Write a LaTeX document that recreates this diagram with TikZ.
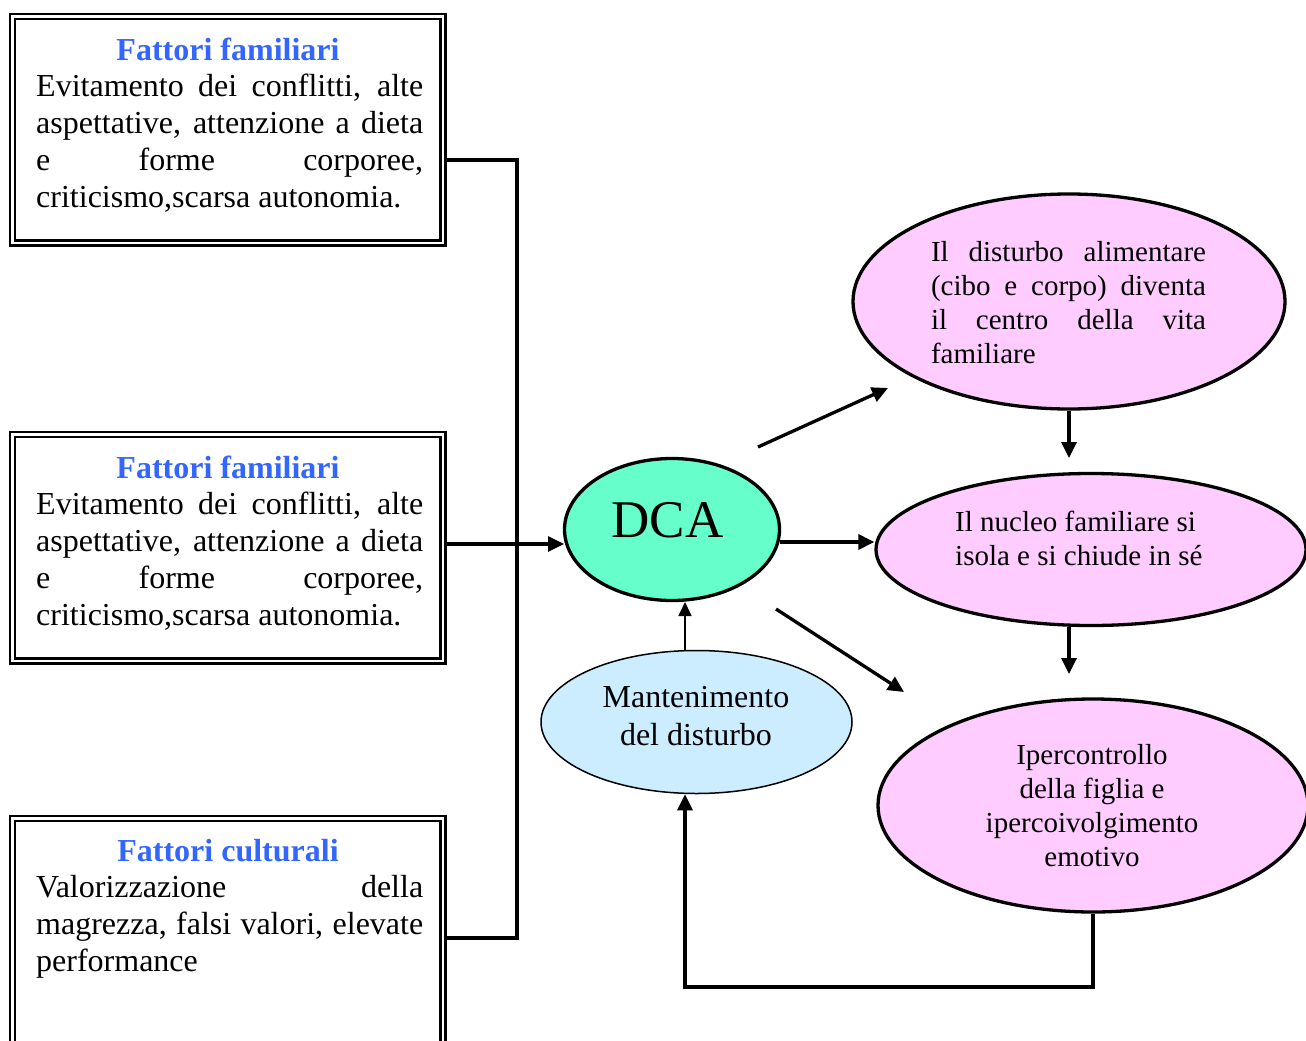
\documentclass[tikz,border=0pt]{standalone}
\usepackage{fontspec}
\setmainfont{Liberation Serif}
\usetikzlibrary{shapes.geometric,arrows.meta}
\definecolor{titleblue}{HTML}{3366FF}
\definecolor{dcagreen}{HTML}{66FFCC}
\definecolor{pinkfill}{HTML}{FFCCFF}
\definecolor{lightblue}{HTML}{CCECFF}
\begin{document}
\begin{tikzpicture}[x=1pt,y=-1pt,
  factorbox/.style={draw, line width=2.3pt, double=white, double distance=2.8pt,
    minimum width=430.5pt, minimum height=226.5pt, inner sep=0pt, outer sep=3.6pt},
  boxtitle/.style={font=\fontsize{32}{37}\selectfont\bfseries, text=titleblue, inner sep=0pt},
  boxbody/.style={font=\fontsize{32}{37}\selectfont, text width=387pt, align=justify,
    inner sep=0pt, anchor=north west},
  pinkell/.style={ellipse, draw, line width=3.3pt, fill=pinkfill, inner sep=0pt},
  elltext/.style={font=\fontsize{29}{34}\selectfont, inner sep=0pt, anchor=north},
  conn/.style={line width=3.3pt, line join=miter},
  arr/.style={line width=3.3pt, line join=miter, -{Triangle[length=16pt,width=15pt]}},
  thinarr/.style={line width=1.7pt, -{Triangle[length=14pt,width=13pt]}}
]
\useasboundingbox (0,0) rectangle (1306,1041);
\fill[white] (0,0) rectangle (1306,1041);
\clip (0,0) rectangle (1306,1041);

% factor boxes
\node[factorbox] (b1) at (227.75,129.75) {};
\node[factorbox] (b2) at (227.75,547.75) {};
\node[factorbox] (b3) at (227.75,931.75) {};

\node[boxtitle] (t1) at (228,49.5) {Fattori familiari};
\node[boxbody] (x1) at (36,74) {Evitamento dei conflitti, alte\linebreak aspettative, attenzione a dieta\linebreak e forme corporee,\linebreak criticismo,scarsa autonomia.};
\node[boxtitle] (t2) at (228,467.5) {Fattori familiari};
\node[boxbody] (x2) at (36,492) {Evitamento dei conflitti, alte\linebreak aspettative, attenzione a dieta\linebreak e forme corporee,\linebreak criticismo,scarsa autonomia.};
\node[boxtitle] (t3) at (228,851) {Fattori culturali};
\node[boxbody] (x3) at (36,875) {Valorizzazione della\linebreak magrezza, falsi valori, elevate\linebreak performance};

% ellipses
\node[pinkell, minimum width=432pt, minimum height=215pt] (e1) at (1069,301.5) {};
\node[pinkell, minimum width=430pt, minimum height=152pt] (e2) at (1091,549.5) {};
\node[pinkell, minimum width=430pt, minimum height=213pt] (e3) at (1093,805.5) {};
\node[ellipse, draw, line width=3.3pt, fill=dcagreen, inner sep=0pt,
  minimum width=215pt, minimum height=142pt] (dca) at (672,529.5) {};
\node[ellipse, draw, line width=1.5pt, fill=lightblue, inner sep=0pt,
  minimum width=311pt, minimum height=143pt] (mant) at (696.5,722) {};

% ellipse texts
\node[elltext, text width=275pt, align=justify] (e1t) at (1068.5,241)
  {Il disturbo alimentare\linebreak (cibo e corpo) diventa\linebreak il centro della vita\linebreak familiare};
\node[elltext, anchor=north west, align=left] (e2t) at (955,510.5)
  {Il nucleo familiare si\\isola e si chiude in sé};
\node[elltext, align=center] (e3t) at (1092,744)
  {Ipercontrollo\\della figlia e\\ipercoivolgimento\\emotivo};
\node[font=\fontsize{32}{38}\selectfont, inner sep=0pt, anchor=north, align=center] (mt) at (696,686)
  {Mantenimento\\del disturbo};
\node[font=\fontsize{53}{60}\selectfont, inner sep=0pt, anchor=base] (dcat) at (667.5,537) {DCA};

% connectors from the boxes
\coordinate (j1) at (517,160);
\coordinate (j3) at (517,938);
\coordinate (a2) at (564,544);
\draw[conn] (b1.east |- j1) -- (j1) -- (j3) -- (b3.east |- j3);
\draw[arr] (b2.east |- a2) -- (a2);

% arrows from DCA
\coordinate (d1s) at (758,447);
\coordinate (d1e) at (888,388);
\coordinate (d2s) at (780,542);
\coordinate (d3s) at (776,609);
\coordinate (d3e) at (904,692);
\draw[arr] (d1s) -- (d1e);
\draw[arr] (d2s) -- (e2.west |- d2s);
\draw[arr] (d3s) -- (d3e);

% vertical arrows on the right
\coordinate (v2) at (1069,458);
\coordinate (v3) at (1069,674);
\draw[arr] (v2 |- e1.south) -- (v2);
\draw[arr] (v3 |- e2.south) -- (v3);

% maintenance loop
\coordinate (m1) at (685,602);
\draw[thinarr] (m1 |- mant.north) -- (m1);
\coordinate (f1) at (1093,987);
\coordinate (f2) at (685,987);
\draw[arr] (e3.south) -- (f1) -- (f2) -- (f2 |- mant.south);
\end{tikzpicture}
\end{document}
